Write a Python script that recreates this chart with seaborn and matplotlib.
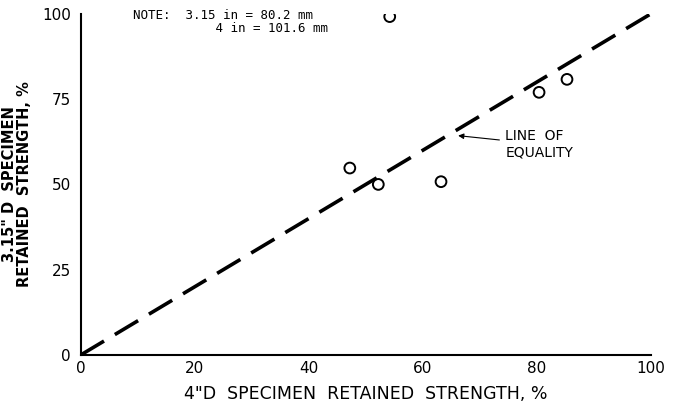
import matplotlib
matplotlib.use("Agg")
import matplotlib.pyplot as plt
import seaborn as sns
import pandas as pd

sns.set_theme(style="white")
plt.rcParams['font.family'] = ['DejaVu Sans']
plt.rcParams['text.color'] = 'black'
plt.rcParams['axes.labelcolor'] = 'black'
plt.rcParams['xtick.color'] = 'black'
plt.rcParams['ytick.color'] = 'black'

x_4in = [47.2, 52.2, 54.2, 63.2, 80.4, 85.3]
y_315in = [54.8, 50.0, 99.2, 50.8, 77.0, 80.8]
equality = [0, 100]
x_ticks = [0, 20, 40, 60, 80, 100]
y_ticks = [0, 25, 50, 75, 100]

df = pd.DataFrame({"x": x_4in, "y": y_315in})
eq = pd.DataFrame({"x": equality, "y": equality})

fig = plt.figure(figsize=(6.73, 4.08), dpi=100)
ax = fig.add_axes([0.120, 0.130, 0.847, 0.836])

sns.lineplot(data=eq, x="x", y="y", ax=ax, color="black", linewidth=2.6,
             dashes=False, linestyle=(0, (7.5, 3.5)))
sns.scatterplot(data=df, x="x", y="y", ax=ax, marker="o", s=60,
                facecolor="none", edgecolor="black", linewidth=1.4, zorder=3)

ax.set_xlim(0, 100)
ax.set_ylim(0, 100)
ax.set_xticks(x_ticks)
ax.set_yticks(y_ticks)
ax.set_xticklabels([str(t) for t in x_ticks], fontsize=11)
ax.set_yticklabels([str(t) for t in y_ticks], fontsize=11)
ax.tick_params(axis="both", direction="in", length=5, width=1.2, color="black", pad=4)
ax.tick_params(axis="y", direction="out", pad=2)
for s in ["top", "right"]:
    ax.spines[s].set_visible(False)
for s in ["left", "bottom"]:
    ax.spines[s].set_color("black")
    ax.spines[s].set_linewidth(1.5)

ax.set_xlabel('4"D  SPECIMEN  RETAINED  STRENGTH, %', fontsize=12.5, labelpad=7)
ax.set_ylabel('3.15" D  SPECIMEN\nRETAINED  STRENGTH, %', fontsize=10.5,
              fontweight="bold", labelpad=7, linespacing=1.0)

fig.text(0.198, 0.978, "NOTE:  3.15 in = 80.2 mm\n           4 in = 101.6 mm",
         fontsize=9, family="DejaVu Sans Mono", va="top", ha="left",
         linespacing=1.0)

ax.annotate("LINE  OF\nEQUALITY", xy=(66.2, 64.3), xytext=(74.5, 61.8),
            fontsize=10, va="center", ha="left", linespacing=1.3,
            arrowprops=dict(arrowstyle="-|>", color="black", lw=0.8,
                            mutation_scale=8, shrinkA=2, shrinkB=0))

fig.savefig("out.png", dpi=100)
